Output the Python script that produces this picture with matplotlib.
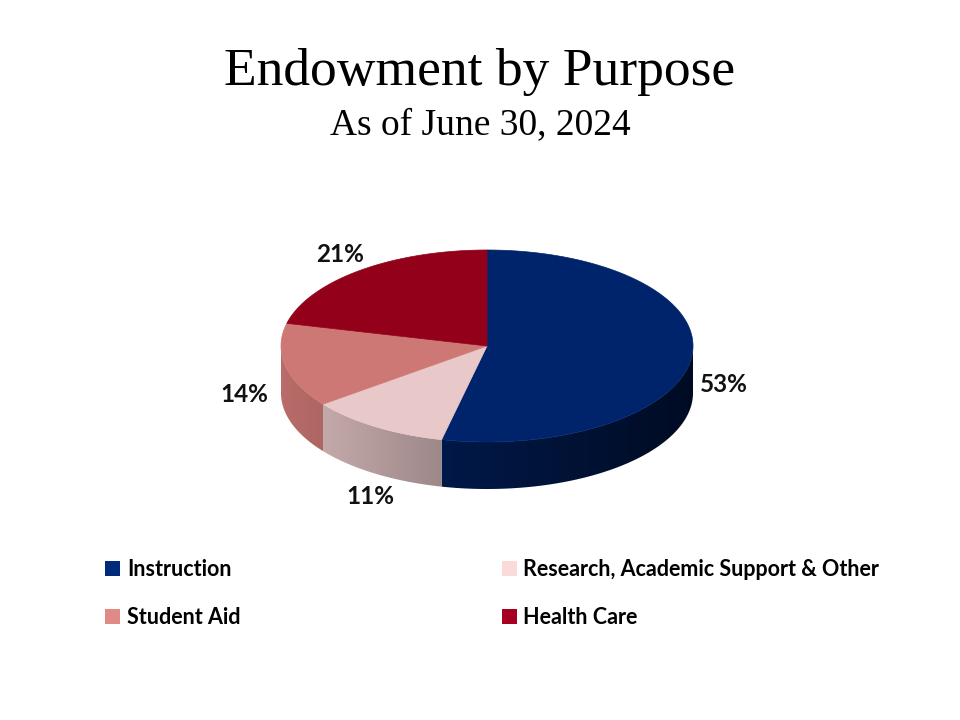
import numpy as np
import matplotlib.pyplot as plt
from matplotlib.patches import Polygon, Patch
from matplotlib.colors import to_rgb

# data
categories = ['Instruction', 'Research, Academic Support & Other', 'Student Aid', 'Health Care']
values = [53, 11, 14, 21]
labels = ['53%', '11%', '14%', '21%']
top_colors = ['#00246B', '#E8C8C9', '#CD7875', '#93001A']
legend_colors = ['#002A7A', '#FADADA', '#E08A88', '#A50021']

# layout (pixels)
cx, cy = 487, 346
rx, ry = 206, 96
depth = 47

fig = plt.figure(figsize=(9.6, 7.2), dpi=100)
ax = fig.add_axes([0, 0, 1, 1])
ax.set_xlim(0, 960)
ax.set_ylim(720, 0)
ax.axis('off')


def pt(t):
    return cx + rx * np.cos(t), cy - ry * np.sin(t)


def shade_factor(c):
    # side walls lighter on the left, darker to the right
    return 0.67 - 0.29 * (c + 0.19)


total = float(sum(values))
start = 90.0
angles = []
for v in values:
    end = start - v / total * 360.0
    angles.append((start, end))
    start = end

# side walls (front half only), gradient image clipped to each wall
for (a0, a1), col in zip(angles, top_colors):
    for off in (0, -360, 360):
        h, l = a0 + off, a1 + off
        s = max(l, -180)
        e = min(h, 0)
        if s >= e:
            continue
        ts = np.radians(np.linspace(s, e, 200))
        xs, ys = pt(ts)
        verts = list(zip(xs, ys)) + list(zip(xs[::-1], ys[::-1] + depth))
        wall = Polygon(verts, closed=True, facecolor='none', edgecolor='none')
        ax.add_patch(wall)
        x_lo, x_hi = xs.min() - 1, xs.max() + 1
        y_lo, y_hi = ys.min() - 1, ys.max() + depth + 1
        gx = np.linspace(x_lo, x_hi, 300)
        f = shade_factor(np.clip((gx - cx) / rx, -1, 1))
        rgb = np.clip(np.outer(f, to_rgb(col)), 0, 1)
        img = np.repeat(rgb[None, :, :], 2, axis=0)
        im = ax.imshow(img, extent=(x_lo, x_hi, y_hi, y_lo), aspect='auto',
                       interpolation='bilinear', zorder=1)
        im.set_clip_path(wall)

ax.set_xlim(0, 960)
ax.set_ylim(720, 0)

# top faces
for (a0, a1), col in zip(angles, top_colors):
    ts = np.radians(np.linspace(a0, a1, 200))
    xs, ys = pt(ts)
    verts = [(cx, cy)] + list(zip(xs, ys))
    ax.add_patch(Polygon(verts, closed=True, facecolor=col, edgecolor=col, lw=0.5, zorder=2))

# percentage labels
label_pos = [(724, 385), (370, 497), (244, 395), (340, 255)]
for lab, (x, y) in zip(labels, label_pos):
    ax.text(x, y, lab, ha='center', va='center', fontsize=17.5, fontweight='bold',
            family='Lato', color='#111111', zorder=3)

fig.text(0.5, 1 - 72 / 720, 'Endowment by Purpose', ha='center', va='center',
         family='Liberation Serif', fontsize=38.5)
fig.text(0.5, 1 - 125 / 720, 'As of June 30, 2024', ha='center', va='center',
         family='Liberation Serif', fontsize=27)

order = [0, 2, 1, 3]
handles = [Patch(facecolor=legend_colors[i], edgecolor='none') for i in order]
names = [categories[i] for i in order]
fig.legend(handles, names, loc='upper left', bbox_to_anchor=(86 / 960, 1 - 540 / 720),
           ncol=2, frameon=False, handlelength=0.7, handleheight=0.7, handletextpad=0.3,
           columnspacing=12.15, labelspacing=1.25,
           prop={'family': 'Lato', 'weight': 'bold', 'size': 15.5})

fig.savefig('out.png', dpi=100)
